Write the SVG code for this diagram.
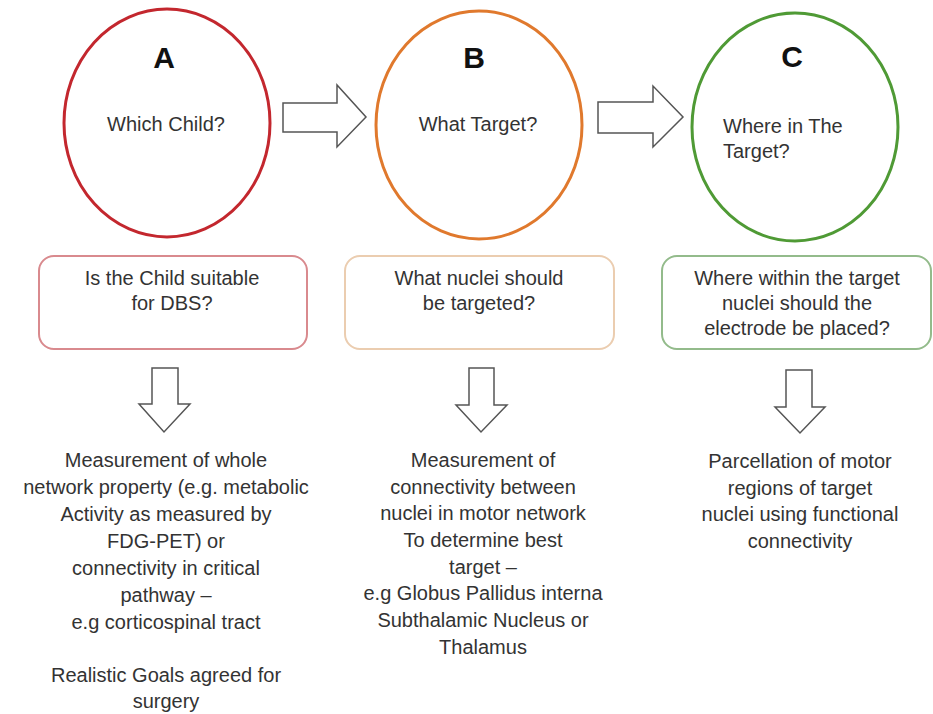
<svg xmlns="http://www.w3.org/2000/svg" width="933" height="714" viewBox="0 0 933 714">
<style>
text{font-family:"Liberation Sans",Arial,sans-serif;fill:#333;font-size:20px}
.c{text-anchor:middle}
.big{font-size:30px;font-weight:bold;fill:#111}
.circ{fill:#fff;stroke-width:3}
.box{fill:#fff;stroke-width:2}
.arr{fill:#fff;stroke:#555;stroke-width:1.5}
</style>
<rect width="933" height="714" fill="#fff"/>
<g id="nodeA">
<ellipse class="circ" cx="167" cy="123" rx="103" ry="114" stroke="#c3272e"/>
<text class="big c" x="164" y="68">A</text>
<text class="c" x="166" y="131">Which Child?</text>
</g>
<g id="nodeB">
<ellipse class="circ" cx="479" cy="125" rx="103" ry="114" stroke="#e0792d"/>
<text class="big c" x="474" y="68">B</text>
<text class="c" x="478" y="131">What Target?</text>
</g>
<g id="nodeC">
<ellipse class="circ" cx="795" cy="127" rx="103" ry="114" stroke="#4f9a35"/>
<text class="big c" x="792" y="67">C</text>
<text x="723" y="133">Where in The</text>
<text x="723" y="158">Target?</text>
</g>
<g id="boxA">
<rect class="box" x="39" y="256" width="268" height="93" rx="15" stroke="#d98a8e"/>
<text class="c" x="172" y="285">Is the Child suitable</text>
<text class="c" x="172" y="310">for DBS?</text>
</g>
<g id="boxB">
<rect class="box" x="345" y="256" width="269" height="93" rx="15" stroke="#ebcdb0"/>
<text class="c" x="479" y="285">What nuclei should</text>
<text class="c" x="479" y="310">be targeted?</text>
</g>
<g id="boxC">
<rect class="box" x="662" y="256" width="269" height="93" rx="15" stroke="#93bb8b"/>
<text class="c" x="797" y="285">Where within the target</text>
<text class="c" x="797" y="310">nuclei should the</text>
<text class="c" x="797" y="335">electrode be placed?</text>
</g>
<g id="textA">
<text class="c" x="166" y="467">Measurement of whole</text>
<text class="c" x="166" y="494">network property (e.g. metabolic</text>
<text class="c" x="166" y="521">Activity as measured by</text>
<text class="c" x="166" y="548">FDG-PET) or</text>
<text class="c" x="166" y="575">connectivity in critical</text>
<text class="c" x="166" y="602">pathway –</text>
<text class="c" x="166" y="629">e.g corticospinal tract</text>
<text class="c" x="166" y="682">Realistic Goals agreed for</text>
<text class="c" x="166" y="708">surgery</text>
</g>
<g id="textB">
<text class="c" x="483" y="467">Measurement of</text>
<text class="c" x="483" y="494">connectivity between</text>
<text class="c" x="483" y="520">nuclei in motor network</text>
<text class="c" x="483" y="547">To determine best</text>
<text class="c" x="483" y="574">target –</text>
<text class="c" x="483" y="600">e.g Globus Pallidus interna</text>
<text class="c" x="483" y="627">Subthalamic Nucleus or</text>
<text class="c" x="483" y="654">Thalamus</text>
</g>
<g id="textC">
<text class="c" x="800" y="468">Parcellation of motor</text>
<text class="c" x="800" y="495">regions of target</text>
<text class="c" x="800" y="521">nuclei using functional</text>
<text class="c" x="800" y="548">connectivity</text>
</g>
<g id="connectors">
<polygon class="arr" points="283,103 337,103 337,85 366,117 337,147 337,132 283,132"/>
<polygon class="arr" points="598,102 653,102 653,86 683,117 653,147 653,133 598,133"/>
<polygon class="arr" points="152,368 178,368 178,404 190,404 164,432 139,404 152,404"/>
<polygon class="arr" points="469,368 494,368 494,405 507,405 481,432 456,405 469,405"/>
<polygon class="arr" points="786,370 812,370 812,407 825,407 800,433 775,407 786,407"/>
</g>
</svg>
